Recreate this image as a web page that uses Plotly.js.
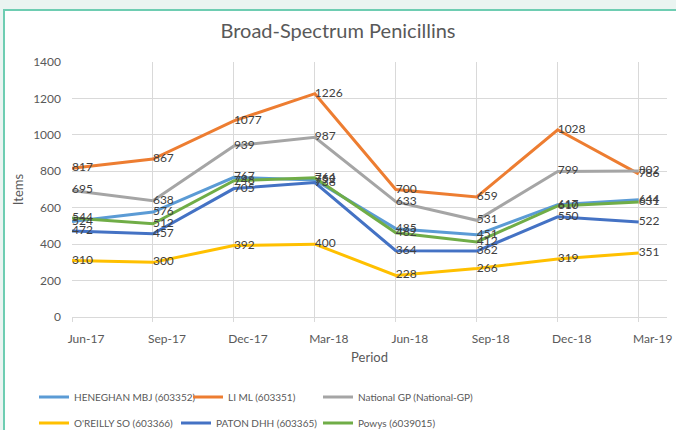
<!DOCTYPE html>
<html>
<head>
<meta charset="utf-8">
<script src="https://cdn.plot.ly/plotly-3.0.1.min.js"></script>
<style>
  html, body { margin: 0; padding: 0; width: 676px; height: 430px; overflow: hidden; background: #EAF4F1; }
  #frame { position: absolute; left: 3px; top: 9px; width: 673px; height: 421px;
           border-top: 2px solid #6ECDB2; border-left: 2px solid #6ECDB2; background: #fff; }
  #chart { width: 671px; height: 419px; }
</style>
</head>
<body>
<div id="frame"><div id="chart"></div></div>
<script>
// ---- data ----
const periods = ["Jun-17", "Sep-17", "Dec-17", "Mar-18", "Jun-18", "Sep-18", "Dec-18", "Mar-19"];
const heneghan = [524, 576, 767, 752, 485, 451, 617, 644];
const liMl     = [817, 867, 1077, 1226, 700, 659, 1028, 786];
const national = [695, 638, 939, 987, 633, 531, 799, 802];
const oreilly  = [310, 300, 392, 400, 228, 266, 319, 351];
const paton    = [472, 457, 705, 738, 364, 362, 550, 522];
const powys    = [544, 512, 748, 764, 462, 412, 610, 631];
const yTicks   = [0, 200, 400, 600, 800, 1000, 1200, 1400];

const seriesNames = ["HENEGHAN MBJ (603352)", "LI ML (603351)", "National GP (National-GP)",
                     "O'REILLY SO (603366)", "PATON DHH (603365)", "Powys (6039015)"];
const seriesVals = [heneghan, liMl, national, oreilly, paton, powys];
const colors = ["#5B9BD5", "#ED7D31", "#A5A5A5", "#FFC000", "#4472C4", "#70AD47"];
const legendWidths = [109, 85, 170, 97, 97, 170];

const FONT = "Lato, 'Open Sans', sans-serif";
const traces = [];
seriesVals.forEach((vals, i) => {
  traces.push({
    type: "scatter", mode: "lines", x: periods, y: vals, name: seriesNames[i],
    line: { color: colors[i], width: 3 },
    legend: i < 3 ? "legend" : "legend2",
    legendwidth: legendWidths[i]
  });
});
seriesVals.forEach((vals, i) => {
  traces.push({
    type: "scatter", mode: "text", x: periods, y: vals, showlegend: false,
    text: vals.map(String), textposition: "middle right", cliponaxis: false,
    textfont: { family: FONT, size: 12, color: "#404040" }
  });
});

const W = 671, H = 419;
const legendBase = {
  orientation: "h", xref: "container", yref: "container",
  x: 29 / W, xanchor: "left", yanchor: "middle",
  entrywidth: 97, entrywidthmode: "pixels", itemwidth: 30,
  font: { family: FONT, size: 10, color: "#595959" }, bgcolor: "rgba(0,0,0,0)"
};
const layout = {
  width: W, height: H,
  margin: { l: 67, r: 9, t: 51, b: 113 },
  paper_bgcolor: "#ffffff", plot_bgcolor: "#ffffff",
  font: { family: FONT, color: "#595959" },
  title: { text: "Broad-Spectrum Penicillins", font: { family: FONT, size: 20, color: "#595959" },
           xref: "container", x: 333 / W, xanchor: "center", yref: "container", y: 1 - 20 / H, yanchor: "middle" },
  xaxis: {
    type: "category", range: [0, 7.35],
    showgrid: true, gridcolor: "#D9D9D9", gridwidth: 1,
    showline: true, linecolor: "#D9D9D9", linewidth: 1,
    ticks: "outside", ticklen: 4, tickcolor: "#D9D9D9",
    ticklabelshift: 14, ticklabelstandoff: 7,
    tickfont: { family: FONT, size: 12, color: "#595959" },
    title: { text: "Period", font: { family: FONT, size: 13, color: "#595959" }, standoff: 7 }
  },
  yaxis: {
    range: [0, 1400], tickvals: yTicks, ticktext: yTicks.map(String),
    showgrid: true, gridcolor: "#D9D9D9", gridwidth: 1, zeroline: false,
    showline: false, ticks: "", ticklabelstandoff: 10,
    tickfont: { family: FONT, size: 12, color: "#595959" },
    title: { text: "Items", font: { family: FONT, size: 13, color: "#595959" }, standoff: 6 }
  },
  legend: Object.assign({}, legendBase, { y: 1 - (397 - 11) / H }),
  legend2: Object.assign({}, legendBase, { y: 1 - (423 - 11) / H }),
  showlegend: true,
  hovermode: false
};

Plotly.newPlot("chart", traces, layout, { staticPlot: true, displayModeBar: false });
</script>
</body>
</html>
